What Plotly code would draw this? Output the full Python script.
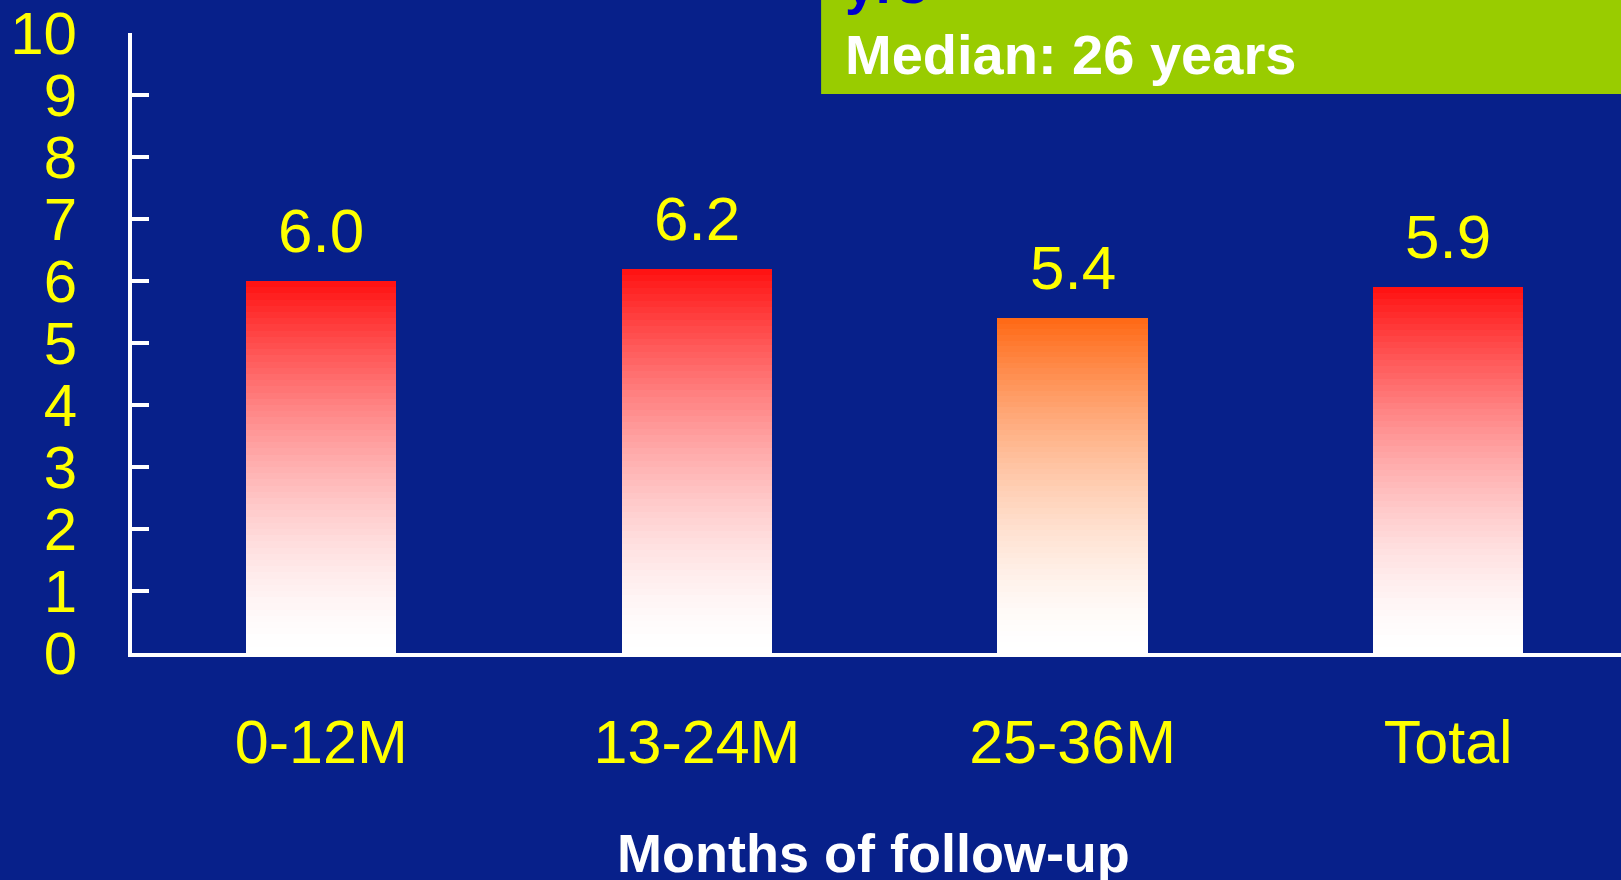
import plotly.graph_objects as go

# --------------------------------
# data
# --------------------------------
categories = ["0-12M", "13-24M", "25-36M", "Total"]
values = [6.0, 6.2, 5.4, 5.9]
value_labels = ["6.0", "6.2", "5.4", "5.9"]
y_ticks = [0, 1, 2, 3, 4, 5, 6, 7, 8, 9, 10]

# top colour of each bar (fades to white at the base)
top_colors = [(255, 16, 16), (255, 16, 16), (255, 104, 20), (255, 16, 16)]

BG = "#07208A"
YELLOW = "#FFFF00"
FONT = "Liberation Sans, Arial, sans-serif"


def mix(rgb, t):
    # t=1 -> rgb, t=0 -> white
    r, g, b = (round(255 + (c - 255) * t) for c in rgb)
    return f"rgb({r},{g},{b})"


fig = go.Figure()

# each bar is drawn as a stack of thin slices so it gets a vertical gradient
N = 60
for k in range(N):
    f = (k + 0.5) / N
    t = f ** 1.6
    fig.add_trace(go.Bar(
        x=categories,
        y=[v / N for v in values],
        base=[v * k / N for v in values],
        width=0.40,
        marker=dict(color=[mix(c, t) for c in top_colors], line=dict(width=0)),
        showlegend=False,
        hoverinfo="skip",
    ))

# value labels above bars
for cat, v, lab in zip(categories, values, value_labels):
    fig.add_annotation(
        x=cat, y=v, text=lab, showarrow=False,
        xanchor="center", yanchor="bottom", yshift=14,
        font=dict(family=FONT, size=62, color=YELLOW),
    )

# green info box in the top right corner
fig.add_shape(
    type="rect", xref="paper", yref="paper",
    x0=0.4628, x1=1.05, y0=0.9016, y1=1.2,
    fillcolor="#99CC00", line=dict(width=0), layer="above",
)
fig.add_annotation(
    xref="paper", yref="paper", x=0.4775, y=1.026,
    xanchor="left", yanchor="bottom", showarrow=False,
    text="yrs", font=dict(family=FONT, size=55, color="#0000CC", weight="bold"),
)
fig.add_annotation(
    xref="paper", yref="paper", x=0.4775, y=0.966,
    xanchor="left", yanchor="middle", showarrow=False,
    text="Median: 26 years", font=dict(family=FONT, size=56, color="white", weight="bold"),
)

# x axis title
fig.add_annotation(
    xref="paper", yref="paper", x=0.4977, y=-0.322,
    xanchor="center", yanchor="middle", showarrow=False,
    text="Months of follow-up", font=dict(family=FONT, size=54, color="white", weight="bold"),
)

fig.update_layout(
    width=1621, height=880,
    margin=dict(l=132, r=0, t=33, b=227),
    paper_bgcolor=BG, plot_bgcolor=BG,
    barmode="overlay", bargap=0,
    font=dict(family=FONT, color=YELLOW),
)
fig.update_xaxes(
    range=[-0.504, 3.46],
    showgrid=False, zeroline=False,
    showline=True, linecolor="white", linewidth=4,
    ticks="", ticklabelstandoff=33,
    tickfont=dict(family=FONT, size=61, color=YELLOW),
)
fig.update_yaxes(
    range=[0, 10], tickvals=y_ticks,
    showgrid=False, zeroline=False,
    showline=True, linecolor="white", linewidth=4,
    ticks="inside", ticklen=17, tickwidth=4, tickcolor="white",
    ticklabelstandoff=39,
    tickfont=dict(family=FONT, size=60, color=YELLOW),
)

fig.write_html(
    "out.html",
    config={"displayModeBar": False},
    post_script="document.body.style.margin='0';",
)
